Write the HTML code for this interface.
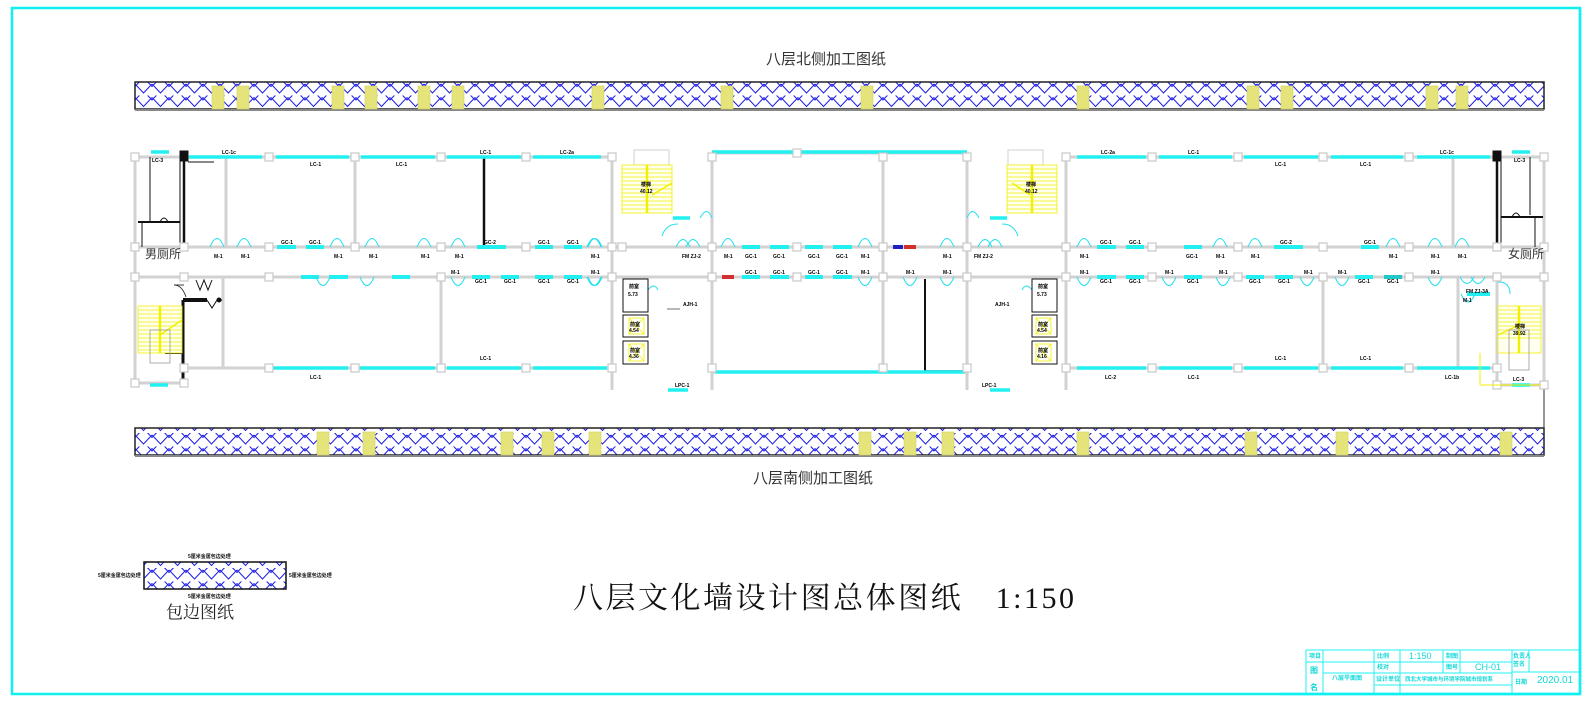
<!DOCTYPE html>
<html><head><meta charset="utf-8"><style>
html,body{margin:0;padding:0;background:#fff}
svg{display:block}
.t{font-family:"Liberation Sans","Noto Sans CJK SC",sans-serif}
.s{font-family:"Liberation Serif","Noto Serif CJK SC",serif}
.lb{font-family:"Liberation Sans",sans-serif;font-size:5px;font-weight:bold;fill:#000}
.w{stroke:#d2d2d2;stroke-width:3;fill:none}
.win{stroke:#22f0f0;stroke-width:3.5}
.gc{stroke:#22f0f0;stroke-width:4}
.dr{stroke:#22e0f0;stroke-width:1;fill:none}
.pl{fill:#fff;stroke:#c8c8c8;stroke-width:1.2}
.tb{stroke:#22f0f0;stroke-width:1;fill:none}
.tt{font-family:"Liberation Sans","Noto Sans CJK SC",sans-serif;font-size:6px;fill:#10d8d8;font-weight:bold}
</style></head><body>
<svg width="1594" height="707" viewBox="0 0 1594 707" xmlns="http://www.w3.org/2000/svg">
<defs>
<pattern id="h" width="17" height="13.5" patternUnits="userSpaceOnUse" x="135" y="82">
<path d="M0,2 L8.5,11 L17,2" stroke="#2020e8" stroke-width="1.1" fill="none"/>
<path d="M4,0 L4.2,0.2 M13,0 L12.8,0.2" stroke="#2020e8" stroke-width="1" fill="none"/>
<path d="M-8.5,-4.5 L0,4.5 L8.5,-4.5 M8.5,-4.5 L17,4.5 L25.5,-4.5" stroke="#2020e8" stroke-width="1.1" fill="none"/>
</pattern>
</defs>
<rect x="0" y="0" width="1594" height="707" fill="#fff"/>
<rect x="12" y="8" width="1568" height="686" fill="none" stroke="#10f0f0" stroke-width="2.5"/>

<text x="826" y="64" class="t" font-size="15" text-anchor="middle" fill="#333">八层北侧加工图纸</text>
<text x="813" y="483" class="t" font-size="15" text-anchor="middle" fill="#333">八层南侧加工图纸</text>
<text x="573" y="608" class="s" font-size="30" fill="#111" textLength="501">八层文化墙设计图总体图纸　1:150</text>

<rect x="135" y="82" width="1409" height="27" fill="url(#h)" stroke="#222" stroke-width="1.5"/>
<line x1="135" y1="110" x2="1544" y2="110" stroke="#888" stroke-width="2"/>
<g fill="#e4e47a" stroke="#d0d060" stroke-width="0.6">
<rect x="212" y="86" width="12" height="23"/><rect x="237" y="86" width="12" height="23"/>
<rect x="332" y="86" width="12" height="23"/><rect x="365" y="86" width="12" height="23"/>
<rect x="418" y="86" width="12" height="23"/><rect x="452" y="86" width="12" height="23"/>
<rect x="592" y="86" width="12" height="23"/><rect x="721" y="86" width="12" height="23"/>
<rect x="861" y="86" width="12" height="23"/><rect x="1077" y="86" width="12" height="23"/>
<rect x="1247" y="86" width="12" height="23"/><rect x="1281" y="86" width="12" height="23"/>
<rect x="1426" y="86" width="12" height="23"/><rect x="1456" y="86" width="12" height="23"/>
</g>

<rect x="135" y="428" width="1409" height="27" fill="url(#h)" stroke="#222" stroke-width="1.5"/>
<line x1="135" y1="456" x2="1544" y2="456" stroke="#888" stroke-width="2"/>
<g fill="#e4e47a" stroke="#d0d060" stroke-width="0.6">
<rect x="317" y="432" width="12" height="23"/><rect x="363" y="432" width="12" height="23"/>
<rect x="501" y="432" width="12" height="23"/><rect x="542" y="432" width="12" height="23"/>
<rect x="589" y="432" width="12" height="23"/><rect x="859" y="432" width="12" height="23"/>
<rect x="904" y="432" width="12" height="23"/><rect x="942" y="432" width="12" height="23"/>
<rect x="1077" y="432" width="12" height="23"/><rect x="1245" y="432" width="12" height="23"/>
<rect x="1336" y="432" width="12" height="23"/><rect x="1500" y="432" width="12" height="23"/>
</g>
<line x1="1544" y1="385" x2="1544" y2="428" stroke="#333" stroke-width="1"/>

<g class="w">
<line x1="135" y1="157" x2="612" y2="157"/><line x1="1067" y1="157" x2="1544" y2="157"/>
<line x1="712" y1="153" x2="967" y2="153"/>
<line x1="135" y1="247" x2="1544" y2="247"/>
<line x1="135" y1="277" x2="1544" y2="277"/>
<line x1="184" y1="368" x2="612" y2="368"/><line x1="1067" y1="368" x2="1497" y2="368"/>
<line x1="712" y1="372" x2="967" y2="372"/>
<line x1="135" y1="383" x2="184" y2="383"/><line x1="1497" y1="385" x2="1544" y2="385"/>
<line x1="135" y1="157" x2="135" y2="383"/><line x1="1544" y1="157" x2="1544" y2="385"/>
<line x1="226" y1="157" x2="226" y2="247"/><line x1="355" y1="157" x2="355" y2="247"/>
<line x1="612" y1="157" x2="612" y2="390"/><line x1="712" y1="153" x2="712" y2="390"/>
<line x1="883" y1="153" x2="883" y2="372"/><line x1="967" y1="153" x2="967" y2="390"/>
<line x1="1066" y1="157" x2="1066" y2="390"/><line x1="1453" y1="157" x2="1453" y2="247"/>
<line x1="223" y1="277" x2="223" y2="368"/><line x1="441" y1="277" x2="441" y2="368"/>
<line x1="1323" y1="277" x2="1323" y2="368"/><line x1="1458" y1="277" x2="1458" y2="368"/>
<line x1="1497" y1="277" x2="1497" y2="385"/>
<rect x="634" y="150" width="35" height="15" stroke-width="1"/>
<rect x="1008" y="150" width="35" height="15" stroke-width="1"/>
</g>

<g stroke="#111" fill="none">
<line x1="184" y1="152" x2="184" y2="247" stroke-width="2.5"/>
<line x1="180" y1="152" x2="180" y2="247" stroke-width="1"/>
<line x1="150" y1="157" x2="150" y2="222" stroke-width="1"/>
<line x1="138" y1="222" x2="180" y2="222" stroke-width="2"/>
<path d="M160,222 q4,-8 8,0" stroke-width="1"/>
<line x1="1497" y1="152" x2="1497" y2="247" stroke-width="2.5"/>
<line x1="1501" y1="152" x2="1501" y2="247" stroke-width="1"/>
<line x1="1530" y1="157" x2="1530" y2="215" stroke-width="1"/>
<line x1="1501" y1="217" x2="1543" y2="217" stroke-width="2"/>
<path d="M1512,217 q4,-8 8,0" stroke-width="1"/>
<line x1="1535" y1="217" x2="1535" y2="247" stroke-width="1"/>
<line x1="142" y1="222" x2="142" y2="247" stroke-width="1"/>
<rect x="180" y="151" width="8" height="10" fill="#111"/>
<rect x="1493" y="151" width="8" height="10" fill="#111"/>
<line x1="188" y1="162" x2="214" y2="162" stroke-width="1"/>
<line x1="484" y1="157" x2="484" y2="247" stroke-width="2.5"/>
<line x1="925" y1="279" x2="925" y2="371" stroke-width="2"/>
<line x1="925" y1="371" x2="967" y2="371" stroke-width="1.5"/>
<line x1="183" y1="300" x2="183" y2="383" stroke-width="3"/>
<line x1="183" y1="300" x2="207" y2="300" stroke-width="4"/>
<path d="M207,300 l5,8 l5,-8 l5,0" stroke-width="1"/>
<circle cx="219" cy="300" r="2" fill="#111"/>
<line x1="165" y1="353" x2="183" y2="353" stroke-width="2"/>
<path d="M174,285 q8,0 12,12" stroke-width="0.8"/>
<line x1="174" y1="285" x2="184" y2="285" stroke-width="0.8"/>
<path d="M196,280 l4,10 l4,-10 l4,10 l4,-10" stroke-width="1"/>
<line x1="667" y1="309" x2="680" y2="309" stroke-width="0.6"/>
</g>

<g class="win">
<line x1="189" y1="157" x2="262" y2="157"/><line x1="276" y1="157" x2="349" y2="157"/>
<line x1="361" y1="157" x2="435" y2="157"/><line x1="447" y1="157" x2="521" y2="157"/>
<line x1="533" y1="157" x2="601" y2="157"/>
<line x1="712" y1="152" x2="967" y2="152"/>
<line x1="1077" y1="157" x2="1146" y2="157"/><line x1="1159" y1="157" x2="1232" y2="157"/>
<line x1="1244" y1="157" x2="1318" y2="157"/><line x1="1331" y1="157" x2="1403" y2="157"/>
<line x1="1417" y1="157" x2="1490" y2="157"/>
<line x1="151" y1="152" x2="169" y2="152"/><line x1="1512" y1="152" x2="1530" y2="152"/>
<line x1="673" y1="218" x2="690" y2="218"/><line x1="990" y1="218" x2="1007" y2="218"/>
<line x1="273" y1="368" x2="348" y2="368"/><line x1="360" y1="368" x2="435" y2="368"/>
<line x1="447" y1="368" x2="521" y2="368"/><line x1="533" y1="368" x2="607" y2="368"/>
<line x1="715" y1="372" x2="965" y2="372"/>
<line x1="1077" y1="368" x2="1146" y2="368"/><line x1="1159" y1="368" x2="1232" y2="368"/>
<line x1="1244" y1="368" x2="1318" y2="368"/><line x1="1331" y1="368" x2="1403" y2="368"/>
<line x1="1417" y1="368" x2="1490" y2="368"/>
<line x1="150" y1="385" x2="168" y2="385"/><line x1="1512" y1="385" x2="1530" y2="385"/>
<line x1="668" y1="390" x2="688" y2="390"/><line x1="990" y1="390" x2="1010" y2="390"/>
</g>
<g class="gc">
<line x1="277" y1="247" x2="296" y2="247"/><line x1="306" y1="247" x2="324" y2="247"/>
<line x1="477" y1="247" x2="506" y2="247"/><line x1="535" y1="247" x2="553" y2="247"/>
<line x1="564" y1="247" x2="582" y2="247"/>
<line x1="742" y1="247" x2="760" y2="247"/><line x1="770" y1="247" x2="789" y2="247"/>
<line x1="805" y1="247" x2="823" y2="247"/><line x1="833" y1="247" x2="852" y2="247"/>
<line x1="1097" y1="247" x2="1116" y2="247"/><line x1="1126" y1="247" x2="1144" y2="247"/>
<line x1="1184" y1="247" x2="1202" y2="247"/><line x1="1274" y1="247" x2="1303" y2="247"/>
<line x1="1361" y1="247" x2="1379" y2="247"/>
<line x1="301" y1="277" x2="319" y2="277"/><line x1="329" y1="277" x2="348" y2="277"/>
<line x1="392" y1="277" x2="410" y2="277"/><line x1="472" y1="277" x2="490" y2="277"/>
<line x1="501" y1="277" x2="519" y2="277"/><line x1="535" y1="277" x2="553" y2="277"/>
<line x1="564" y1="277" x2="582" y2="277"/>
<line x1="742" y1="277" x2="760" y2="277"/><line x1="770" y1="277" x2="789" y2="277"/>
<line x1="805" y1="277" x2="823" y2="277"/><line x1="833" y1="277" x2="852" y2="277"/>
<line x1="1097" y1="277" x2="1116" y2="277"/><line x1="1126" y1="277" x2="1144" y2="277"/>
<line x1="1184" y1="277" x2="1202" y2="277"/><line x1="1246" y1="277" x2="1264" y2="277"/>
<line x1="1275" y1="277" x2="1293" y2="277"/><line x1="1355" y1="277" x2="1373" y2="277"/>
<line x1="1384" y1="277" x2="1402" y2="277" stroke="#20c8c8"/>
<line x1="1467" y1="294" x2="1490" y2="294"/>
</g>
<rect x="893" y="245" width="10" height="4" fill="#2020c0"/><rect x="904" y="245" width="12" height="4" fill="#d03030"/>
<rect x="722" y="275" width="12" height="4" fill="#d03030"/>

<g class="dr">
<path d="M210,247 Q217,230 224,247"/><path d="M237,247 Q244,230 251,247"/>
<path d="M330,247 Q337,230 344,247"/><path d="M365,247 Q372,230 379,247"/>
<path d="M417,247 Q424,230 431,247"/><path d="M451,247 Q458,230 465,247"/>
<path d="M587,247 Q594,230 601,247"/><path d="M588,247 Q595,230 602,247"/>
<path d="M721,247 Q728,230 735,247"/><path d="M858,247 Q865,230 872,247"/>
<path d="M940,247 Q947,230 954,247"/><path d="M676,247 Q683,232 690,247"/><path d="M686,247 Q693,232 700,247"/>
<path d="M978,247 Q985,232 992,247"/><path d="M988,247 Q995,232 1002,247"/>
<path d="M1077,247 Q1084,230 1091,247"/><path d="M1213,247 Q1220,230 1227,247"/>
<path d="M1248,247 Q1255,230 1262,247"/><path d="M1386,247 Q1393,230 1400,247"/>
<path d="M1428,247 Q1435,230 1442,247"/><path d="M1455,247 Q1462,230 1469,247"/>
<path d="M700,218 Q707,205 712,218"/><path d="M967,218 Q972,205 979,218"/>
<path d="M662,236 q4,-12 16,-12"/><path d="M1018,236 q-4,-12 -16,-12"/>
<path d="M316,277 Q323,294 330,277"/><path d="M360,277 Q367,294 374,277"/>
<path d="M451,277 Q458,294 465,277"/><path d="M587,277 Q594,294 601,277"/>
<path d="M588,277 Q595,294 602,277"/><path d="M858,277 Q865,294 872,277"/>
<path d="M903,277 Q910,294 917,277"/><path d="M940,277 Q947,294 954,277"/>
<path d="M1077,277 Q1084,294 1091,277"/><path d="M1162,277 Q1169,294 1176,277"/>
<path d="M1216,277 Q1223,294 1230,277"/><path d="M1300,277 Q1307,294 1314,277"/>
<path d="M1335,277 Q1342,294 1349,277"/><path d="M1428,277 Q1435,294 1442,277"/>
<path d="M1460,277 Q1467,290 1474,277"/><path d="M1471,277 Q1478,290 1485,277"/>
<path d="M1461,294 Q1468,310 1475,294"/>
<path d="M648,290 q6,-8 10,0"/><path d="M1032,290 q-6,-8 -10,0"/>
<path d="M1498,282 q12,0 12,12"/>
</g>

<g class="pl">
<rect x="131" y="153" width="8" height="8"/><rect x="265" y="153" width="8" height="8"/>
<rect x="351" y="153" width="8" height="8"/><rect x="437" y="153" width="8" height="8"/>
<rect x="522" y="153" width="8" height="8"/><rect x="608" y="153" width="8" height="8"/>
<rect x="708" y="153" width="8" height="8"/><rect x="793" y="149" width="8" height="8"/>
<rect x="879" y="153" width="8" height="8"/><rect x="963" y="153" width="8" height="8"/>
<rect x="1062" y="153" width="8" height="8"/><rect x="1148" y="153" width="8" height="8"/>
<rect x="1234" y="153" width="8" height="8"/><rect x="1319" y="153" width="8" height="8"/>
<rect x="1405" y="153" width="8" height="8"/><rect x="1540" y="153" width="8" height="8"/>
<rect x="131" y="243" width="8" height="8"/><rect x="180" y="243" width="8" height="8"/>
<rect x="265" y="243" width="8" height="8"/><rect x="351" y="243" width="8" height="8"/>
<rect x="437" y="243" width="8" height="8"/><rect x="522" y="243" width="8" height="8"/>
<rect x="608" y="243" width="8" height="8"/><rect x="618" y="243" width="8" height="8"/>
<rect x="708" y="243" width="8" height="8"/><rect x="793" y="243" width="8" height="8"/>
<rect x="879" y="243" width="8" height="8"/><rect x="963" y="243" width="8" height="8"/>
<rect x="1062" y="243" width="8" height="8"/><rect x="1148" y="243" width="8" height="8"/>
<rect x="1234" y="243" width="8" height="8"/><rect x="1319" y="243" width="8" height="8"/>
<rect x="1405" y="243" width="8" height="8"/><rect x="1493" y="243" width="8" height="8"/>
<rect x="1540" y="243" width="8" height="8"/>
<rect x="131" y="273" width="8" height="8"/><rect x="180" y="273" width="8" height="8"/>
<rect x="265" y="273" width="8" height="8"/><rect x="437" y="273" width="8" height="8"/>
<rect x="608" y="273" width="8" height="8"/><rect x="708" y="273" width="8" height="8"/>
<rect x="793" y="273" width="8" height="8"/><rect x="879" y="273" width="8" height="8"/>
<rect x="963" y="273" width="8" height="8"/><rect x="1062" y="273" width="8" height="8"/>
<rect x="1148" y="273" width="8" height="8"/><rect x="1234" y="273" width="8" height="8"/>
<rect x="1319" y="273" width="8" height="8"/><rect x="1405" y="273" width="8" height="8"/>
<rect x="1493" y="273" width="8" height="8"/><rect x="1540" y="273" width="8" height="8"/>
<rect x="180" y="364" width="8" height="8"/><rect x="265" y="364" width="8" height="8"/>
<rect x="351" y="364" width="8" height="8"/><rect x="437" y="364" width="8" height="8"/>
<rect x="522" y="364" width="8" height="8"/><rect x="608" y="364" width="8" height="8"/>
<rect x="708" y="364" width="8" height="8"/><rect x="879" y="364" width="8" height="8"/>
<rect x="963" y="364" width="8" height="8"/><rect x="1062" y="364" width="8" height="8"/>
<rect x="1148" y="364" width="8" height="8"/><rect x="1234" y="364" width="8" height="8"/>
<rect x="1319" y="364" width="8" height="8"/><rect x="1405" y="364" width="8" height="8"/>
<rect x="1493" y="364" width="8" height="8"/>
<rect x="131" y="379" width="8" height="8"/><rect x="180" y="379" width="8" height="8"/>
<rect x="1493" y="381" width="8" height="8"/><rect x="1540" y="381" width="8" height="8"/>
</g>

<g stroke="#f0f000" stroke-width="0.8" fill="none">
<rect x="622" y="165" width="50" height="48" fill="#fffff0"/>
<rect x="1007" y="165" width="50" height="48" fill="#fffff0"/>
<rect x="138" y="306" width="44" height="47" fill="#fffff0"/>
<rect x="1498" y="306" width="43" height="47" fill="#fffff0"/>
<path d="M622,169h50M622,173h50M622,177h50M622,181h50M622,185h50M622,189h50M622,193h50M622,197h50M622,201h50M622,205h50M622,209h50"/>
<path d="M1007,169h50M1007,173h50M1007,177h50M1007,181h50M1007,185h50M1007,189h50M1007,193h50M1007,197h50M1007,201h50M1007,205h50M1007,209h50"/>
<path d="M138,310h44M138,314h44M138,318h44M138,322h44M138,326h44M138,330h44M138,334h44M138,338h44M138,342h44M138,346h44M138,350h44"/>
<path d="M1498,310h43M1498,314h43M1498,318h43M1498,322h43M1498,326h43M1498,330h43M1498,334h43M1498,338h43"/>
<line x1="647" y1="165" x2="647" y2="213" stroke-width="2.5"/>
<line x1="1032" y1="165" x2="1032" y2="213" stroke-width="2.5"/>
<line x1="160" y1="306" x2="160" y2="353" stroke-width="2.5"/>
<line x1="1519" y1="306" x2="1519" y2="353" stroke-width="2.5"/>
<line x1="652" y1="195" x2="672" y2="183" stroke-width="1.5"/>
<line x1="1012" y1="183" x2="1030" y2="195" stroke-width="1.5"/>
<line x1="160" y1="335" x2="182" y2="320" stroke-width="1.5"/>
<line x1="1498" y1="335" x2="1519" y2="325" stroke-width="1.5"/>
<line x1="1480" y1="353" x2="1480" y2="385" stroke-width="1"/>
<line x1="1480" y1="385" x2="1541" y2="385" stroke-width="1"/>
</g>
<g fill="none" stroke="#999" stroke-width="0.8">
<rect x="150" y="330" width="20" height="33"/><rect x="1509" y="330" width="20" height="40"/>
</g>

<g stroke="#111" stroke-width="1" fill="#fff">
<rect x="623" y="279" width="25" height="33"/><rect x="623" y="315" width="25" height="22"/>
<rect x="623" y="341" width="25" height="23"/>
<rect x="1032" y="279" width="25" height="33"/><rect x="1032" y="315" width="25" height="22"/>
<rect x="1032" y="341" width="25" height="23"/>
</g>
<g stroke="#f0f000" stroke-width="0.8" fill="none">
<rect x="629" y="318" width="15" height="16"/><rect x="629" y="344" width="15" height="17"/>
<rect x="1036" y="318" width="15" height="16"/><rect x="1036" y="344" width="15" height="17"/>
<path d="M629,318l15,16M644,318l-15,16M629,344l15,17M644,344l-15,17M1036,318l15,16M1051,318l-15,16M1036,344l15,17M1051,344l-15,17"/>
</g>

<text x="145" y="258" class="t" font-size="12" fill="#333">男厕所</text>
<text x="1508" y="258" class="t" font-size="12" fill="#333">女厕所</text>
<g class="lb">
<text x="152" y="162">LC-3</text><text x="1514" y="162">LC-3</text>
<text x="222" y="154">LC-1c</text><text x="310" y="166">LC-1</text><text x="396" y="166">LC-1</text>
<text x="480" y="154">LC-1</text><text x="560" y="154">LC-2a</text>
<text x="1101" y="154">LC-2a</text><text x="1188" y="154">LC-1</text><text x="1275" y="166">LC-1</text>
<text x="1360" y="166">LC-1</text><text x="1440" y="154">LC-1c</text>
<text x="214" y="258">M-1</text><text x="241" y="258">M-1</text><text x="281" y="244">GC-1</text><text x="309" y="244">GC-1</text>
<text x="334" y="258">M-1</text><text x="369" y="258">M-1</text><text x="421" y="258">M-1</text><text x="455" y="258">M-1</text>
<text x="484" y="244">GC-2</text><text x="538" y="244">GC-1</text><text x="567" y="244">GC-1</text><text x="591" y="258">M-1</text>
<text x="724" y="258">M-1</text><text x="745" y="258">GC-1</text><text x="773" y="258">GC-1</text><text x="808" y="258">GC-1</text><text x="836" y="258">GC-1</text>
<text x="861" y="258">M-1</text><text x="943" y="258">M-1</text><text x="682" y="258">FM ZJ-2</text><text x="974" y="258">FM ZJ-2</text>
<text x="1080" y="258">M-1</text><text x="1100" y="244">GC-1</text><text x="1129" y="244">GC-1</text><text x="1186" y="258">GC-1</text>
<text x="1216" y="258">M-1</text><text x="1251" y="258">M-1</text><text x="1280" y="244">GC-2</text><text x="1364" y="244">GC-1</text>
<text x="1389" y="258">M-1</text><text x="1431" y="258">M-1</text><text x="1458" y="258">M-1</text>
<text x="451" y="274">M-1</text><text x="475" y="283">GC-1</text><text x="504" y="283">GC-1</text><text x="538" y="283">GC-1</text><text x="567" y="283">GC-1</text><text x="591" y="274">M-1</text>
<text x="745" y="274">GC-1</text><text x="773" y="274">GC-1</text><text x="808" y="274">GC-1</text><text x="836" y="274">GC-1</text><text x="861" y="274">M-1</text>
<text x="906" y="274">M-1</text><text x="943" y="274">M-1</text>
<text x="1080" y="274">M-1</text><text x="1100" y="283">GC-1</text><text x="1129" y="283">GC-1</text><text x="1165" y="274">M-1</text>
<text x="1187" y="283">GC-1</text><text x="1219" y="274">M-1</text><text x="1249" y="283">GC-1</text><text x="1278" y="283">GC-1</text>
<text x="1304" y="274">M-1</text><text x="1338" y="274">M-1</text><text x="1358" y="283">GC-1</text><text x="1387" y="283">GC-1</text><text x="1431" y="274">M-1</text>
<text x="1466" y="293">FM ZJ-3A</text><text x="1463" y="302">M-1</text>
<text x="310" y="379">LC-1</text><text x="480" y="360">LC-1</text><text x="675" y="387">LPC-1</text><text x="982" y="387">LPC-1</text>
<text x="1105" y="379">LC-2</text><text x="1188" y="379">LC-1</text><text x="1275" y="360">LC-1</text><text x="1360" y="360">LC-1</text>
<text x="1445" y="379">LC-1b</text><text x="1513" y="381">LC-3</text>
<text x="683" y="306">AJH-1</text><text x="995" y="306">AJH-1</text>
<text x="629" y="288">前室</text><text x="628" y="296">5.73</text><text x="1038" y="288">前室</text><text x="1037" y="296">5.73</text>
<text x="630" y="326">前室</text><text x="629" y="332">4.54</text><text x="1038" y="326">前室</text><text x="1037" y="332">4.54</text>
<text x="630" y="352">前室</text><text x="629" y="358">4.36</text><text x="1038" y="352">前室</text><text x="1037" y="358">4.16</text>
<text x="641" y="186">楼梯</text><text x="640" y="193">40.12</text><text x="1026" y="186">楼梯</text><text x="1025" y="193">40.12</text>
<text x="1515" y="328">楼梯</text><text x="1513" y="335">39.92</text>
</g>

<rect x="144" y="562" width="142" height="27" fill="url(#h)" stroke="#111" stroke-width="1.5"/>
<g class="t" font-size="5" font-weight="bold" fill="#111">
<text x="188" y="558">5厘米金属包边处理</text>
<text x="98" y="577">5厘米金属包边处理</text>
<text x="289" y="577">5厘米金属包边处理</text>
<text x="188" y="598">5厘米金属包边处理</text>
</g>
<text x="200" y="618" class="s" font-size="17" text-anchor="middle" fill="#222">包边图纸</text>

<g class="tb">
<rect x="1306" y="650" width="274" height="44"/>
<line x1="1306" y1="662" x2="1512" y2="662"/><line x1="1323" y1="673" x2="1512" y2="673"/>
<line x1="1374" y1="685" x2="1512" y2="685"/><line x1="1512" y1="672" x2="1580" y2="672"/>
<line x1="1323" y1="650" x2="1323" y2="694"/><line x1="1374" y1="650" x2="1374" y2="694"/>
<line x1="1400" y1="650" x2="1400" y2="694"/><line x1="1443" y1="650" x2="1443" y2="673"/>
<line x1="1460" y1="650" x2="1460" y2="673"/><line x1="1512" y1="650" x2="1512" y2="694"/>
<line x1="1529" y1="650" x2="1529" y2="672"/>
</g>
<line x1="1280" y1="694" x2="1580" y2="694" stroke="#10f0f0" stroke-width="2.5"/>
<line x1="1580" y1="8" x2="1580" y2="694" stroke="#10f0f0" stroke-width="2.5"/>
<g class="tt">
<text x="1309" y="658">项目</text>
<text x="1310" y="673" font-size="8">图</text><text x="1310" y="690" font-size="8">名</text>
<text x="1332" y="680">八层平面图</text>
<text x="1377" y="658">比例</text><text x="1377" y="669">校对</text>
<text x="1376" y="681">设计单位</text>
<text x="1446" y="658">制图</text><text x="1446" y="669">图号</text>
<text x="1513" y="658">负责人</text><text x="1513" y="666">签名</text>
<text x="1515" y="684">日期</text>
<text x="1405" y="681" font-size="5.5">西北大学城市与环境学院城市规划系</text>
</g>
<g class="t" fill="#10d8d8">
<text x="1409" y="659" font-size="9">1:150</text>
<text x="1475" y="670" font-size="9">CH-01</text>
<text x="1537" y="683" font-size="10">2020.01</text>
</g>
</svg>
</body></html>
